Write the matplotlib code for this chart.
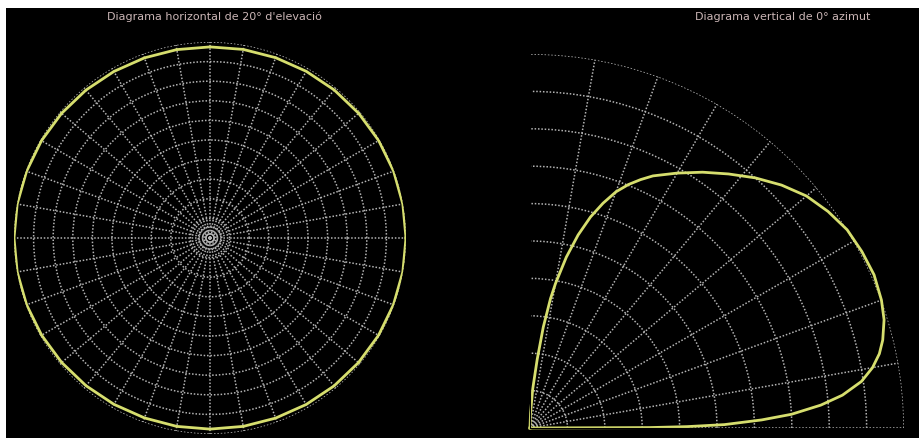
import numpy as np
import matplotlib
matplotlib.use('Agg')
import matplotlib.pyplot as plt
from matplotlib.patches import Rectangle

# Figure size in pixels
W, H = 920, 438
DPI = 100

# Titles
TITLE_H = "Diagrama horizontal de 20° d'elevació"
TITLE_V = "Diagrama vertical de 0° azimut"

# Horizontal pattern (azimuth in degrees, relative gain), read every 10 degrees
h_angles = list(range(0, 361, 10))
h_gain = [1.0, 0.999, 0.997, 0.994, 0.99, 0.986, 0.982, 0.979, 0.977, 0.975,
          0.976, 0.978, 0.981, 0.985, 0.989, 0.993, 0.996, 0.999, 1.0,
          0.999, 0.996, 0.992, 0.988, 0.984, 0.98, 0.977, 0.976, 0.975,
          0.976, 0.978, 0.981, 0.985, 0.989, 0.993, 0.996, 0.999, 1.0]

# Vertical pattern (elevation in degrees, relative gain)
v_angles = [0, 0.2, 0.5, 1, 2, 3, 4.5, 6, 8, 10, 12, 14, 17, 20, 24, 28, 32, 36,
            40, 44, 48, 52, 56, 60, 64, 66, 68, 70, 72, 74, 76, 78, 80, 81,
            82.5, 84, 86, 88, 90]
v_gain = [0, 0.32, 0.42, 0.52, 0.62, 0.70, 0.78, 0.84, 0.895, 0.93, 0.955, 0.972,
          0.99, 1.0, 1.007, 1.005, 1.0, 0.985, 0.965, 0.935, 0.9, 0.862, 0.825,
          0.787, 0.75, 0.727, 0.702, 0.672, 0.632, 0.587, 0.532, 0.467, 0.392,
          0.35, 0.272, 0.185, 0.105, 0.04, 0]

# Grid rings
h_rings = [0.03, 0.06, 0.1, 0.2, 0.3, 0.4, 0.5, 0.6, 0.7, 0.8, 0.9, 1.0]
v_rings = [0.1, 0.2, 0.3, 0.4, 0.5, 0.6, 0.7, 0.8, 0.9, 1.0]

YELLOW = '#d6de6e'
GRID = '#b4b4b4'
TEXT = '#cbb6b6'

fig = plt.figure(figsize=(W / DPI, H / DPI), dpi=DPI, facecolor='white')
fig.add_artist(Rectangle((6 / W, 0), 1 - 6 / W, 1 - 8 / H, transform=fig.transFigure,
                         facecolor='black', edgecolor='none', zorder=0))


def style_polar(ax, rings, rmax):
    ax.set_facecolor('none')
    ax.set_ylim(0, rmax)
    ax.set_yticks(rings)
    ax.set_yticklabels([])
    ax.set_xticklabels([])
    ax.tick_params(length=0)
    ax.grid(True, color=GRID, linestyle=(0, (1, 1.2)), linewidth=1.1)
    for s in ax.spines.values():
        s.set_visible(False)


# Left: horizontal diagram
r_px = 196
ax1 = fig.add_axes([(210 - r_px) / W, (H - 238 - r_px) / H, 2 * r_px / W, 2 * r_px / H],
                   projection='polar')
style_polar(ax1, h_rings, 1.0)
ax1.set_xticks(np.deg2rad(np.arange(0, 360, 10)))
ax1.plot(np.deg2rad(h_angles), h_gain, color=YELLOW, linewidth=2)

# Right: vertical diagram
R_px = 374
ax2 = fig.add_axes([530 / W, (H - 428) / H, R_px / W, R_px / H], projection='polar')
ax2.set_thetamin(0)
ax2.set_thetamax(90)
style_polar(ax2, v_rings, 1.0)
ax2.set_xticks(np.deg2rad(np.arange(0, 91, 10)))
ax2.plot(np.deg2rad(v_angles), v_gain, color=YELLOW, linewidth=2, clip_on=False)

fig.text(214 / W, 1 - 17 / H, TITLE_H, color=TEXT, fontsize=8, ha='center', va='center')
fig.text(783 / W, 1 - 17 / H, TITLE_V, color=TEXT, fontsize=8, ha='center', va='center')

fig.savefig('out.png', dpi=DPI, facecolor=fig.get_facecolor())
